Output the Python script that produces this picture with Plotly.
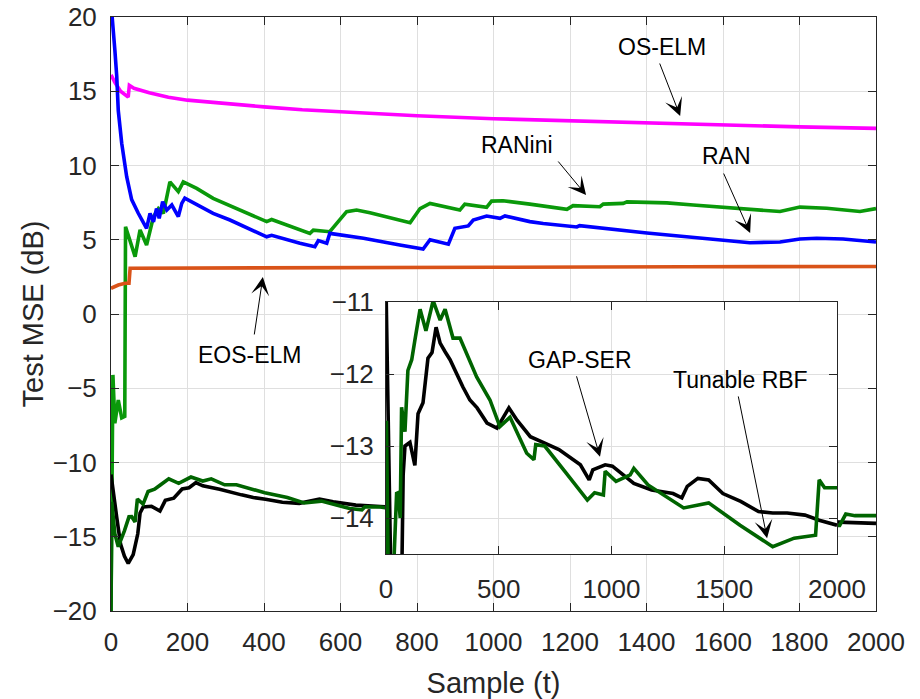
import plotly.graph_objects as go

# ---------------- data ----------------
os_elm_x = [0, 10, 25, 45, 48, 60, 100, 150, 200, 300, 400, 500, 600, 800, 1000, 1200, 1400, 1600, 1800, 2000]
os_elm_y = [16.1, 15.6, 15.0, 14.6, 15.4, 15.2, 14.9, 14.6, 14.4, 14.15, 13.95, 13.75, 13.6, 13.35, 13.15, 13.0, 12.86, 12.72, 12.6, 12.5]

ran_x = [0, 3, 10, 15, 19, 28, 41, 54, 71, 85, 93, 102, 111, 119, 126, 135, 146, 159, 176, 185, 193,
         267, 311, 407, 420, 494, 533, 542, 564, 572, 660, 755, 816, 834, 882, 899, 934, 947, 965, 982,
         1017, 1030, 1095, 1130, 1218, 1225, 1401, 1522, 1670, 1749, 1801, 1845, 1914, 2000]
ran_y = [22, 20, 17.8, 16.0, 13.7, 11.5, 9.25, 7.7, 6.8, 6.2, 5.77, 6.78, 6.2, 7.1, 6.44, 7.56, 7.0, 7.34, 6.56, 7.45, 7.8,
         6.78, 6.33, 5.2, 5.3, 4.76, 4.53, 4.94, 4.76, 5.43, 5.1, 4.65, 4.38, 5.0, 4.7, 5.77, 5.93, 6.33, 6.44, 6.6,
         6.44, 6.6, 6.22, 6.1, 5.86, 5.95, 5.45, 5.16, 4.8, 4.85, 5.05, 5.1, 5.05, 4.85]

ranini_x = [0, 5, 10, 19, 28, 36, 38, 63, 76, 93, 111, 124, 137, 154, 176, 189, 224, 267, 407, 420, 520, 529, 572,
            616, 642, 677, 782, 808, 834, 912, 925, 982, 995, 1025, 1095, 1192, 1208, 1278, 1287, 1339, 1349, 1401,
            1453, 1522, 1610, 1696, 1749, 1801, 1871, 1958, 2000]
ranini_y = [-20, -4.1, -7.36, -5.8, -7.0, -6.9, 5.88, 3.86, 5.66, 4.65, 6.55, 7.1, 6.78, 8.9, 8.24, 8.9, 8.46, 7.79, 6.22, 6.36, 5.43, 5.65, 5.54,
            6.89, 7.0, 6.82, 6.15, 7.1, 7.45, 7.0, 7.4, 7.18, 7.6, 7.63, 7.4, 7.05, 7.3, 7.22, 7.4, 7.45, 7.55, 7.5,
            7.48, 7.34, 7.19, 7.0, 6.9, 7.2, 7.12, 6.9, 7.1]

eos_elm_x = [0, 19, 37, 47, 50, 200, 600, 1000, 1500, 2000]
eos_elm_y = [1.73, 1.95, 2.07, 2.07, 3.08, 3.1, 3.12, 3.15, 3.18, 3.2]

gap_ser_x = [0, 8, 15, 25, 35, 45, 58, 70, 76, 84, 106, 128, 142, 164, 186, 204, 222, 240, 262, 284, 341, 372,
             404, 448, 492, 519, 545, 581, 640, 704, 767, 862, 901, 917, 972, 1004, 1099, 1178, 1273, 1312, 1336,
             1383, 1431, 1494, 1573, 1652, 1715, 1779, 1858, 1921, 2000]
gap_ser_y = [-10.8, -12.5, -13.7, -15.5, -16.3, -16.8, -16.2, -14.8, -13.4, -13.0, -12.95, -13.27, -12.55, -12.4,
             -11.78, -11.7, -11.35, -11.57, -11.69, -11.8, -12.18, -12.36, -12.47, -12.68, -12.75, -12.6, -12.47,
             -12.64, -12.87, -12.96, -13.05, -13.26, -13.47, -13.33, -13.26, -13.28, -13.52, -13.61, -13.66,
             -13.72, -13.56, -13.45, -13.47, -13.66, -13.77, -13.91, -13.93, -13.93, -13.96, -14.03, -14.1]

trbf_x = [0, 2, 10, 19, 35, 47, 54, 63, 69, 84, 97, 114, 128, 151, 177, 209, 240, 262, 297, 328, 402, 461, 505,
          550, 624, 656, 664, 704, 800, 893, 925, 964, 972, 1020, 1083, 1099, 1162, 1240, 1320, 1431, 1570, 1715,
          1810, 1905, 1921, 1945, 2000]
trbf_y = [-20, -12.65, -14.8, -15.67, -14.6, -13.66, -13.65, -14.0, -12.46, -12.8, -11.95, -11.8, -11.53, -11.1,
          -11.4, -10.98, -11.25, -11.1, -11.5, -11.5, -12.04, -12.36, -12.73, -12.6, -13.1, -13.19, -12.98, -13.0,
          -13.38, -13.75, -13.65, -13.68, -13.35, -13.49, -13.4, -13.31, -13.54, -13.7, -13.86, -13.79, -14.1,
          -14.4, -14.28, -14.24, -13.47, -13.58, -13.58]

main_x_ticks = list(range(0, 2001, 200))
main_y_ticks = list(range(-20, 21, 5))
inset_x_ticks = [0, 500, 1000, 1500, 2000]
inset_y_ticks = [-14, -13, -12, -11]

# ---------------- styles ----------------
FONT = "Liberation Sans, Arial, Helvetica, sans-serif"
AX = "#262626"
GRID = "#dfdfdf"
LW = 3.6

series = [
    ("OS-ELM", os_elm_x, os_elm_y, "#ff00ff"),
    ("RANini", ranini_x, ranini_y, "#0a990a"),
    ("EOS-ELM", eos_elm_x, eos_elm_y, "#d95319"),
    ("RAN", ran_x, ran_y, "#0000ff"),
    ("GAP-SER", gap_ser_x, gap_ser_y, "#000000"),
    ("Tunable RBF", trbf_x, trbf_y, "#006400"),
]

fig = go.Figure()
for name, xs, ys, col in series:
    fig.add_trace(go.Scatter(x=xs, y=ys, mode="lines", name=name,
                             line=dict(color=col, width=LW), xaxis="x", yaxis="y",
                             showlegend=False, hoverinfo="skip"))
# inset
for name, xs, ys, col in series[4:]:
    fig.add_trace(go.Scatter(x=xs, y=ys, mode="lines", name=name + " (zoom)",
                             line=dict(color=col, width=LW), xaxis="x2", yaxis="y2",
                             showlegend=False, hoverinfo="skip"))

axis_common = dict(showline=True, linecolor=AX, linewidth=1, mirror="allticks",
                   ticks="inside", ticklen=8, tickcolor=AX, tickwidth=1,
                   showgrid=True, gridcolor=GRID, gridwidth=1, zeroline=False,
                   automargin=False,
                   tickfont=dict(family=FONT, size=26, color=AX))

fig.update_layout(
    width=920, height=699,
    margin=dict(l=111, r=44, t=17, b=88),
    paper_bgcolor="white", plot_bgcolor="white",
    font=dict(family=FONT, color=AX),
    xaxis=dict(range=[0, 2000], tickvals=main_x_ticks, domain=[0, 1], anchor="y",
               ticklabelstandoff=8,
               title=dict(text="Sample (t)", font=dict(family=FONT, size=29, color=AX), standoff=16),
               **axis_common),
    yaxis=dict(range=[-20, 20], tickvals=main_y_ticks, domain=[0, 1], anchor="x",
               ticklabelstandoff=8,
               title=dict(text="Test MSE (dB)", font=dict(family=FONT, size=29, color=AX), standoff=0),
               **axis_common),
    xaxis2=dict(range=[0, 2000], tickvals=inset_x_ticks, domain=[0.3595, 0.949], anchor="y2",
                ticklabelstandoff=12, **axis_common),
    yaxis2=dict(range=[-14.5, -11], tickvals=inset_y_ticks, domain=[0.096, 0.520], anchor="x2",
                ticklabelstandoff=6, **axis_common),
)

ann_font = dict(family=FONT, size=23, color="#000000")
# text labels
labels = [
    ("OS-ELM", 1440, 18.0, "x", "y"),
    ("RANini", 1061, 11.38, "x", "y"),
    ("RAN", 1610, 10.64, "x", "y"),
    ("EOS-ELM", 363, -2.76, "x", "y"),
    ("GAP-SER", 860, -11.81, "x2", "y2"),
    ("Tunable RBF", 1570, -12.08, "x2", "y2"),
]
for t, x, y, xr, yr in labels:
    fig.add_annotation(text=t, x=x, y=y, xref=xr, yref=yr, showarrow=False,
                       font=ann_font, xanchor="center", yanchor="middle")
# arrows (tail -> head)
arrows = [
    (1433, 16.97, 1488, 13.33, "x", "y"),
    (1166, 10.37, 1242, 8.01, "x", "y"),
    (1600, 9.56, 1671, 5.45, "x", "y"),
    (374, -1.48, 397, 2.49, "x", "y"),
    (843, -12.01, 949, -13.15, "x2", "y2"),
    (1561, -12.29, 1690, -14.28, "x2", "y2"),
]
for ax_, ay_, x, y, xr, yr in arrows:
    fig.add_annotation(text="", x=x, y=y, xref=xr, yref=yr, ax=ax_, ay=ay_, axref=xr, ayref=yr,
                       showarrow=True, arrowhead=3, arrowsize=3, arrowwidth=1, arrowcolor="#000000",
                       standoff=0, startstandoff=0)

fig.write_html("out.html")
